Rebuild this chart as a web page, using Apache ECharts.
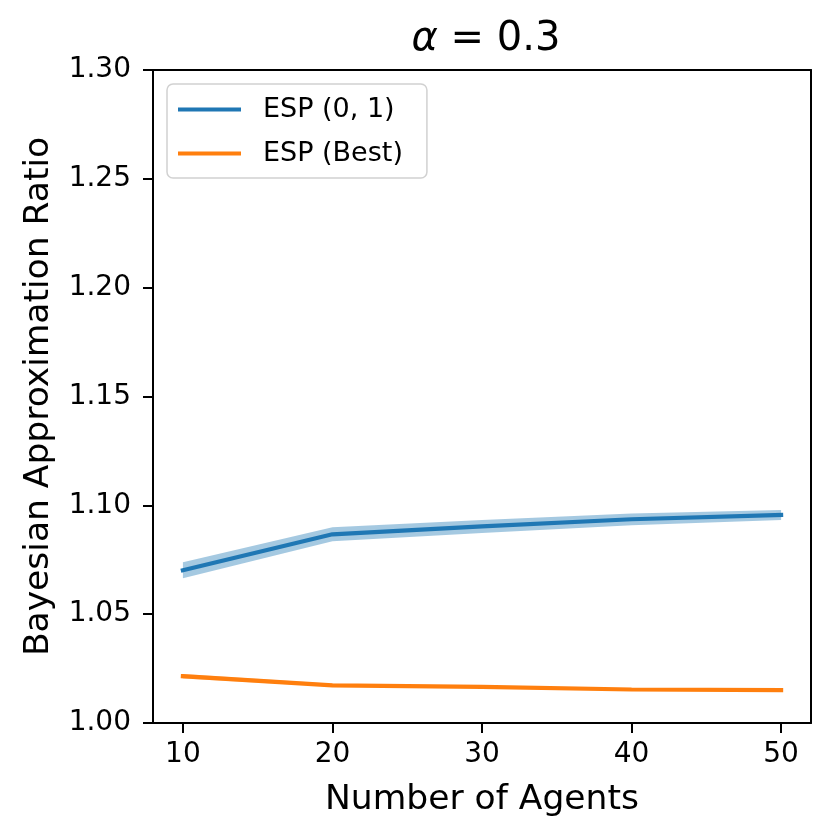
<!DOCTYPE html>
<html>
<head>
<meta charset="utf-8">
<script src="https://cdn.jsdelivr.net/npm/echarts@6/dist/echarts.min.js"></script>
<style>html,body{margin:0;padding:0;background:#fff}#c{width:832px;height:840px}</style>
</head>
<body>
<div id="c"></div>
<script>
var agents = [10, 20, 30, 40, 50];
var espMean = [1.0702, 1.0867, 1.0903, 1.0936, 1.0956];
var espHalf = [0.0037, 0.0032, 0.0030, 0.0027, 0.0023];
var bestMean = [1.0215, 1.0173, 1.0166, 1.0154, 1.0151];
var bestHalf = [0.0010, 0.0007, 0.0006, 0.0006, 0.0006];
var xTicks = [10, 20, 30, 40, 50];
var yTicks = [1.00, 1.05, 1.10, 1.15, 1.20, 1.25, 1.30];

function pairs(xs, ys) { return xs.map(function (x, i) { return [x, ys[i]]; }); }
function bandData(xs, m, h) { return xs.map(function (x, i) { return [x, m[i] - h[i], m[i] + h[i]]; }); }

function bandRenderer(data, color, opacity) {
  return function (params, api) {
    if (params.dataIndex !== 0) return null;
    var top = [], bot = [];
    for (var i = 0; i < data.length; i++) {
      top.push(api.coord([data[i][0], data[i][2]]));
      bot.push(api.coord([data[i][0], data[i][1]]));
    }
    var pts = top.concat(bot.reverse());
    return {
      type: 'polygon',
      shape: { points: pts },
      style: { fill: color, opacity: opacity },
      silent: true
    };
  };
}

var font = 'DejaVu Sans';
var espBand = bandData(agents, espMean, espHalf);
var bestBand = bandData(agents, bestMean, bestHalf);

var chart = echarts.init(document.getElementById('c'), null, {renderer: 'canvas'});
chart.setOption({
  animation: false,
  backgroundColor: '#ffffff',
  title: {
    text: '{a|α} = 0.3',
    left: 481, top: 15, textAlign: 'center',
    textStyle: {
      fontFamily: font, fontSize: 40, fontWeight: 'normal', color: '#000',
      rich: { a: { fontFamily: font, fontSize: 40, fontStyle: 'italic', color: '#000' } }
    }
  },
  grid: { left: 153, right: 21, top: 70, bottom: 117, containLabel: false },
  legend: {
    orient: 'vertical', left: 167, top: 84,
    data: ['ESP (0, 1)', 'ESP (Best)'],
    icon: 'rect', itemWidth: 63, itemHeight: 4, itemGap: 17,
    padding: [12, 24, 11, 11],
    backgroundColor: '#ffffff', borderColor: 'rgba(204,204,204,0.9)', borderWidth: 1.5, borderRadius: 6,
    textStyle: { fontFamily: font, fontSize: 27, color: '#000', padding: [0, 0, 0, 17] }
  },
  xAxis: [{
    type: 'value', min: 8, max: 52,
    name: 'Number of Agents', nameLocation: 'middle', nameGap: 60,
    nameTextStyle: { fontFamily: font, fontSize: 34.5, color: '#000' },
    axisLine: { onZero: false, lineStyle: { color: '#000', width: 2 } },
    axisTick: { show: true, length: 10, inside: false, customValues: xTicks, lineStyle: { color: '#000', width: 2 } },
    axisLabel: { customValues: xTicks, margin: 18, fontFamily: font, fontSize: 28, color: '#000' },
    splitLine: { show: false }
  }, {
    type: 'value', min: 8, max: 52, position: 'top',
    axisLine: { show: true, onZero: false, lineStyle: { color: '#000', width: 2 } },
    axisTick: { show: false }, axisLabel: { show: false }, splitLine: { show: false }
  }],
  yAxis: [{
    type: 'value', min: 1.0, max: 1.3, interval: 0.05,
    name: 'Bayesian Approximation Ratio', nameLocation: 'middle', nameGap: 96, nameRotate: 90,
    nameTextStyle: { fontFamily: font, fontSize: 34.5, color: '#000' },
    axisLine: { show: true, onZero: false, lineStyle: { color: '#000', width: 2 } },
    axisTick: { show: true, length: 10, inside: false, lineStyle: { color: '#000', width: 2 } },
    axisLabel: { margin: 22, fontFamily: font, fontSize: 28, color: '#000',
      formatter: function (v) { return v.toFixed(2); } },
    splitLine: { show: false }
  }, {
    type: 'value', min: 1.0, max: 1.3, position: 'right',
    axisLine: { show: true, onZero: false, lineStyle: { color: '#000', width: 2 } },
    axisTick: { show: false }, axisLabel: { show: false }, splitLine: { show: false }
  }],
  series: [
    { name: 'espBand', type: 'custom', data: espBand, encode: { x: 0, y: [1, 2] },
      renderItem: bandRenderer(espBand, '#1f77b4', 0.4), silent: true, z: 1 },
    { name: 'bestBand', type: 'custom', data: bestBand, encode: { x: 0, y: [1, 2] },
      renderItem: bandRenderer(bestBand, '#ff7f0e', 0.3), silent: true, z: 1 },
    { name: 'ESP (0, 1)', type: 'line', data: pairs(agents, espMean), symbol: 'none',
      itemStyle: { color: '#1f77b4' }, lineStyle: { color: '#1f77b4', width: 4.2, cap: 'square' }, z: 3 },
    { name: 'ESP (Best)', type: 'line', data: pairs(agents, bestMean), symbol: 'none',
      itemStyle: { color: '#ff7f0e' }, lineStyle: { color: '#ff7f0e', width: 4.2, cap: 'square' }, z: 3 }
  ]
});
</script>
</body>
</html>
